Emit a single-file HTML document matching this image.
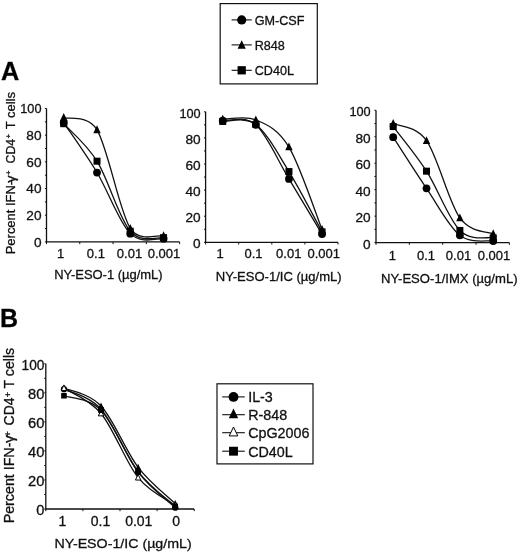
<!DOCTYPE html>
<html><head><meta charset="utf-8"><title>Figure</title>
<style>html,body{margin:0;padding:0;background:#fff}body{width:520px;height:553px;overflow:hidden;font-family:"Liberation Sans", sans-serif}</style></head>
<body>
<svg width="520" height="553" viewBox="0 0 520 553" style="display:block;will-change:transform;opacity:0.999">
<style>text{stroke:#111;stroke-width:0.30px;stroke-linejoin:round}</style>
<g font-family='"Liberation Sans", sans-serif' fill="#111">
<path d="M46.50 108.50 V241.90 H179.60" fill="none" stroke="#111" stroke-width="1.30"/>
<path d="M44.90 241.90 h1.60M44.90 228.56 h1.60M44.90 215.22 h1.60M44.90 201.88 h1.60M44.90 188.54 h1.60M44.90 175.20 h1.60M44.90 161.86 h1.60M44.90 148.52 h1.60M44.90 135.18 h1.60M44.90 121.84 h1.60M44.90 108.50 h1.60M46.50 241.90 v2.20M79.78 241.90 v2.20M113.05 241.90 v2.20M146.32 241.90 v2.20M179.60 241.90 v2.20" fill="none" stroke="#111" stroke-width="1"/>
<text x="41.50" y="246.58" font-size="13.00" text-anchor="end" textLength="7.59" lengthAdjust="spacingAndGlyphs">0</text>
<text x="41.50" y="219.90" font-size="13.00" text-anchor="end" textLength="15.18" lengthAdjust="spacingAndGlyphs">20</text>
<text x="41.50" y="193.22" font-size="13.00" text-anchor="end" textLength="15.18" lengthAdjust="spacingAndGlyphs">40</text>
<text x="41.50" y="166.54" font-size="13.00" text-anchor="end" textLength="15.18" lengthAdjust="spacingAndGlyphs">60</text>
<text x="41.50" y="139.86" font-size="13.00" text-anchor="end" textLength="15.18" lengthAdjust="spacingAndGlyphs">80</text>
<text x="41.50" y="113.18" font-size="13.00" text-anchor="end" textLength="21.25" lengthAdjust="spacingAndGlyphs">100</text>
<text x="60.64" y="258.30" font-size="13.00" text-anchor="middle">1</text>
<text x="95.91" y="258.30" font-size="13.00" text-anchor="middle">0.1</text>
<text x="129.49" y="258.30" font-size="13.00" text-anchor="middle">0.01</text>
<text x="163.96" y="258.30" font-size="13.00" text-anchor="middle">0.001</text>
<text x="54.15" y="279.00" font-size="12.70" textLength="108.50" lengthAdjust="spacingAndGlyphs">NY-ESO-1 (µg/mL)</text>
<text transform="translate(15.40 254.30) rotate(-90)" font-size="12.20" textLength="73.50" lengthAdjust="spacingAndGlyphs">Percent IFN-</text>
<text transform="translate(15.40 182.70) rotate(-90)" font-size="12.20" textLength="7.40" lengthAdjust="spacingAndGlyphs">γ</text>
<text transform="translate(10.80 174.90) rotate(-90)" font-size="7.80" textLength="4.60" lengthAdjust="spacingAndGlyphs">+</text>
<text transform="translate(15.40 163.50) rotate(-90)" font-size="12.20" textLength="24.60" lengthAdjust="spacingAndGlyphs">CD4</text>
<text transform="translate(10.80 138.50) rotate(-90)" font-size="7.80" textLength="4.60" lengthAdjust="spacingAndGlyphs">+</text>
<text transform="translate(15.40 129.30) rotate(-90)" font-size="12.20" textLength="37.30" lengthAdjust="spacingAndGlyphs">T cells</text>
<path d="M63.74 122.77 C69.28 131.07 85.92 154.06 97.01 172.53 C108.10 191.01 119.20 222.60 130.29 233.63 C141.38 244.66 158.02 237.85 163.56 238.70" fill="none" stroke="#111" stroke-width="1.30"/>
<path d="M63.74 117.57 C69.28 119.62 87.89 114.64 97.01 129.84 C108.10 148.32 119.20 210.77 130.29 228.43 C139.35 242.85 158.02 234.54 163.56 235.76" fill="none" stroke="#111" stroke-width="1.30"/>
<path d="M63.74 123.71 C69.28 129.96 85.92 143.27 97.01 161.19 C108.10 179.11 119.20 218.49 130.29 231.23 C141.38 243.97 158.02 236.56 163.56 237.63" fill="none" stroke="#111" stroke-width="1.30"/>
<circle cx="63.74" cy="122.77" r="3.90" fill="#000"/>
<circle cx="97.01" cy="172.53" r="3.90" fill="#000"/>
<circle cx="130.29" cy="233.63" r="3.90" fill="#000"/>
<circle cx="163.56" cy="238.70" r="3.90" fill="#000"/>
<path d="M63.74 113.07 L67.44 120.87 L60.04 120.87 Z" fill="#000"/>
<path d="M97.01 125.34 L100.71 133.14 L93.31 133.14 Z" fill="#000"/>
<path d="M130.29 223.93 L133.99 231.73 L126.59 231.73 Z" fill="#000"/>
<path d="M163.56 231.26 L167.26 239.06 L159.86 239.06 Z" fill="#000"/>
<rect x="60.24" y="120.21" width="7.00" height="7.00" fill="#000"/>
<rect x="93.51" y="157.69" width="7.00" height="7.00" fill="#000"/>
<rect x="126.79" y="227.73" width="7.00" height="7.00" fill="#000"/>
<rect x="160.06" y="234.13" width="7.00" height="7.00" fill="#000"/>
<path d="M205.60 111.80 V242.30 H338.00" fill="none" stroke="#111" stroke-width="1.30"/>
<path d="M204.00 242.30 h1.60M204.00 229.25 h1.60M204.00 216.20 h1.60M204.00 203.15 h1.60M204.00 190.10 h1.60M204.00 177.05 h1.60M204.00 164.00 h1.60M204.00 150.95 h1.60M204.00 137.90 h1.60M204.00 124.85 h1.60M204.00 111.80 h1.60M205.60 242.30 v2.20M238.70 242.30 v2.20M271.80 242.30 v2.20M304.90 242.30 v2.20M338.00 242.30 v2.20" fill="none" stroke="#111" stroke-width="1"/>
<text x="200.70" y="248.48" font-size="13.00" text-anchor="end" textLength="7.59" lengthAdjust="spacingAndGlyphs">0</text>
<text x="200.70" y="222.38" font-size="13.00" text-anchor="end" textLength="15.18" lengthAdjust="spacingAndGlyphs">20</text>
<text x="200.70" y="196.28" font-size="13.00" text-anchor="end" textLength="15.18" lengthAdjust="spacingAndGlyphs">40</text>
<text x="200.70" y="170.18" font-size="13.00" text-anchor="end" textLength="15.18" lengthAdjust="spacingAndGlyphs">60</text>
<text x="200.70" y="144.08" font-size="13.00" text-anchor="end" textLength="15.18" lengthAdjust="spacingAndGlyphs">80</text>
<text x="200.70" y="117.98" font-size="13.00" text-anchor="end" textLength="21.25" lengthAdjust="spacingAndGlyphs">100</text>
<text x="220.15" y="257.60" font-size="13.00" text-anchor="middle">1</text>
<text x="253.45" y="257.60" font-size="13.00" text-anchor="middle">0.1</text>
<text x="288.75" y="257.60" font-size="13.00" text-anchor="middle">0.01</text>
<text x="323.75" y="257.60" font-size="13.00" text-anchor="middle">0.001</text>
<text x="215.75" y="280.70" font-size="12.90" textLength="125.90" lengthAdjust="spacingAndGlyphs">NY-ESO-1/IC (µg/mL)</text>
<path d="M222.75 120.54 C228.27 121.26 244.82 115.13 255.85 124.85 C266.88 134.57 277.92 160.67 288.95 178.88 C299.98 197.08 316.53 224.88 322.05 234.08" fill="none" stroke="#111" stroke-width="1.30"/>
<path d="M222.75 119.24 C228.27 119.35 244.82 115.26 255.85 119.89 C266.88 124.52 277.92 128.77 288.95 147.04 C299.98 165.31 316.53 215.77 322.05 229.51" fill="none" stroke="#111" stroke-width="1.30"/>
<path d="M222.75 121.46 C228.27 121.96 244.82 116.11 255.85 124.46 C266.88 132.81 277.92 153.67 288.95 171.57 C299.98 189.47 316.53 221.81 322.05 231.86" fill="none" stroke="#111" stroke-width="1.30"/>
<circle cx="222.75" cy="120.54" r="3.90" fill="#000"/>
<circle cx="255.85" cy="124.85" r="3.90" fill="#000"/>
<circle cx="288.95" cy="178.88" r="3.90" fill="#000"/>
<circle cx="322.05" cy="234.08" r="3.90" fill="#000"/>
<path d="M222.75 114.74 L226.45 122.54 L219.05 122.54 Z" fill="#000"/>
<path d="M255.85 115.39 L259.55 123.19 L252.15 123.19 Z" fill="#000"/>
<path d="M288.95 142.54 L292.65 150.34 L285.25 150.34 Z" fill="#000"/>
<path d="M322.05 225.01 L325.75 232.81 L318.35 232.81 Z" fill="#000"/>
<rect x="219.25" y="117.96" width="7.00" height="7.00" fill="#000"/>
<rect x="252.35" y="120.96" width="7.00" height="7.00" fill="#000"/>
<rect x="285.45" y="168.07" width="7.00" height="7.00" fill="#000"/>
<rect x="318.55" y="228.36" width="7.00" height="7.00" fill="#000"/>
<path d="M376.00 110.30 V242.60 H509.40" fill="none" stroke="#111" stroke-width="1.30"/>
<path d="M374.40 242.60 h1.60M374.40 229.37 h1.60M374.40 216.14 h1.60M374.40 202.91 h1.60M374.40 189.68 h1.60M374.40 176.45 h1.60M374.40 163.22 h1.60M374.40 149.99 h1.60M374.40 136.76 h1.60M374.40 123.53 h1.60M374.40 110.30 h1.60M376.00 242.60 v2.20M409.35 242.60 v2.20M442.70 242.60 v2.20M476.05 242.60 v2.20M509.40 242.60 v2.20" fill="none" stroke="#111" stroke-width="1"/>
<text x="370.70" y="248.78" font-size="13.00" text-anchor="end" textLength="7.59" lengthAdjust="spacingAndGlyphs">0</text>
<text x="370.70" y="222.32" font-size="13.00" text-anchor="end" textLength="15.18" lengthAdjust="spacingAndGlyphs">20</text>
<text x="370.70" y="195.86" font-size="13.00" text-anchor="end" textLength="15.18" lengthAdjust="spacingAndGlyphs">40</text>
<text x="370.70" y="169.40" font-size="13.00" text-anchor="end" textLength="15.18" lengthAdjust="spacingAndGlyphs">60</text>
<text x="370.70" y="142.94" font-size="13.00" text-anchor="end" textLength="15.18" lengthAdjust="spacingAndGlyphs">80</text>
<text x="370.70" y="116.48" font-size="13.00" text-anchor="end" textLength="21.25" lengthAdjust="spacingAndGlyphs">100</text>
<text x="392.28" y="260.30" font-size="13.00" text-anchor="middle">1</text>
<text x="426.02" y="260.30" font-size="13.00" text-anchor="middle">0.1</text>
<text x="458.48" y="260.30" font-size="13.00" text-anchor="middle">0.01</text>
<text x="494.02" y="260.30" font-size="13.00" text-anchor="middle">0.001</text>
<text x="381.05" y="282.50" font-size="12.90" textLength="136.50" lengthAdjust="spacingAndGlyphs">NY-ESO-1/IMX (µg/mL)</text>
<path d="M393.18 137.16 C398.73 145.69 415.41 172.00 426.52 188.36 C437.64 204.72 448.76 226.55 459.88 235.32 C470.99 244.10 487.67 240.06 493.22 241.01" fill="none" stroke="#111" stroke-width="1.30"/>
<path d="M393.18 123.53 C398.73 126.40 415.70 125.40 426.52 140.73 C437.64 156.47 448.76 202.47 459.88 217.99 C470.63 233.01 487.67 231.22 493.22 233.87" fill="none" stroke="#111" stroke-width="1.30"/>
<path d="M393.18 126.57 C398.73 134.00 415.41 153.85 426.52 171.16 C437.64 188.47 448.76 219.32 459.88 230.43 C470.99 241.54 487.67 236.60 493.22 237.84" fill="none" stroke="#111" stroke-width="1.30"/>
<circle cx="393.18" cy="137.16" r="3.90" fill="#000"/>
<circle cx="426.52" cy="188.36" r="3.90" fill="#000"/>
<circle cx="459.88" cy="235.32" r="3.90" fill="#000"/>
<circle cx="493.22" cy="241.01" r="3.90" fill="#000"/>
<path d="M393.18 119.03 L396.88 126.83 L389.48 126.83 Z" fill="#000"/>
<path d="M426.52 136.23 L430.22 144.03 L422.82 144.03 Z" fill="#000"/>
<path d="M459.88 213.49 L463.57 221.29 L456.18 221.29 Z" fill="#000"/>
<path d="M493.22 229.37 L496.92 237.17 L489.52 237.17 Z" fill="#000"/>
<rect x="389.68" y="123.07" width="7.00" height="7.00" fill="#000"/>
<rect x="423.02" y="167.66" width="7.00" height="7.00" fill="#000"/>
<rect x="456.38" y="226.93" width="7.00" height="7.00" fill="#000"/>
<rect x="489.72" y="234.34" width="7.00" height="7.00" fill="#000"/>
<path d="M45.80 363.80 V509.00 H194.20" fill="none" stroke="#111" stroke-width="1.30"/>
<path d="M44.20 509.00 h1.60M44.20 494.48 h1.60M44.20 479.96 h1.60M44.20 465.44 h1.60M44.20 450.92 h1.60M44.20 436.40 h1.60M44.20 421.88 h1.60M44.20 407.36 h1.60M44.20 392.84 h1.60M44.20 378.32 h1.60M44.20 363.80 h1.60M45.80 509.00 v2.20M82.90 509.00 v2.20M120.00 509.00 v2.20M157.10 509.00 v2.20M194.20 509.00 v2.20" fill="none" stroke="#111" stroke-width="1"/>
<text x="44.40" y="515.14" font-size="14.00" text-anchor="end" textLength="8.17" lengthAdjust="spacingAndGlyphs">0</text>
<text x="44.40" y="486.10" font-size="14.00" text-anchor="end" textLength="16.35" lengthAdjust="spacingAndGlyphs">20</text>
<text x="44.40" y="457.06" font-size="14.00" text-anchor="end" textLength="16.35" lengthAdjust="spacingAndGlyphs">40</text>
<text x="44.40" y="428.02" font-size="14.00" text-anchor="end" textLength="16.35" lengthAdjust="spacingAndGlyphs">60</text>
<text x="44.40" y="398.98" font-size="14.00" text-anchor="end" textLength="16.35" lengthAdjust="spacingAndGlyphs">80</text>
<text x="44.40" y="369.94" font-size="14.00" text-anchor="end" textLength="22.88" lengthAdjust="spacingAndGlyphs">100</text>
<text x="62.35" y="526.00" font-size="14.00" text-anchor="middle">1</text>
<text x="100.45" y="526.00" font-size="14.00" text-anchor="middle">0.1</text>
<text x="138.75" y="526.00" font-size="14.00" text-anchor="middle">0.01</text>
<text x="176.25" y="526.00" font-size="14.00" text-anchor="middle">0</text>
<text x="54.45" y="548.30" font-size="13.70" textLength="137.30" lengthAdjust="spacingAndGlyphs">NY-ESO-1/IC (µg/mL)</text>
<text transform="translate(14.10 523.30) rotate(-90)" font-size="13.80" textLength="80.70" lengthAdjust="spacingAndGlyphs">Percent IFN-</text>
<text transform="translate(14.10 443.10) rotate(-90)" font-size="13.80" textLength="7.80" lengthAdjust="spacingAndGlyphs">γ</text>
<text transform="translate(10.60 436.40) rotate(-90)" font-size="8.60" textLength="5.20" lengthAdjust="spacingAndGlyphs">+</text>
<text transform="translate(14.10 425.40) rotate(-90)" font-size="13.80" textLength="27.80" lengthAdjust="spacingAndGlyphs">CD4</text>
<text transform="translate(10.50 397.20) rotate(-90)" font-size="8.60" textLength="5.20" lengthAdjust="spacingAndGlyphs">+</text>
<text transform="translate(14.10 388.50) rotate(-90)" font-size="13.80" textLength="40.60" lengthAdjust="spacingAndGlyphs">T cells</text>
<path d="M63.95 389.21 C70.13 392.55 88.68 395.43 101.05 409.25 C113.42 423.07 125.78 455.71 138.15 472.12 C150.52 488.53 169.07 501.76 175.25 507.69" fill="none" stroke="#111" stroke-width="1.30"/>
<path d="M63.95 388.05 C70.13 391.05 88.68 392.84 101.05 406.05 C113.42 419.27 125.78 451.09 138.15 467.33 C150.52 483.57 169.07 497.46 175.25 503.48" fill="none" stroke="#111" stroke-width="1.30"/>
<path d="M63.95 388.19 C70.13 392.40 88.68 398.55 101.05 413.46 C113.42 428.37 125.78 462.32 138.15 477.64 C150.52 492.96 169.07 500.75 175.25 505.37" fill="none" stroke="#111" stroke-width="1.30"/>
<path d="M63.95 395.74 C70.13 398.16 88.68 397.63 101.05 410.26 C113.42 422.90 125.78 455.52 138.15 471.54 C150.52 487.56 169.07 500.58 175.25 506.39" fill="none" stroke="#111" stroke-width="1.30"/>
<circle cx="63.95" cy="389.21" r="3.12" fill="#000"/>
<circle cx="101.05" cy="409.25" r="3.12" fill="#000"/>
<circle cx="138.15" cy="472.12" r="3.12" fill="#000"/>
<circle cx="175.25" cy="507.69" r="3.12" fill="#000"/>
<path d="M63.95 384.45 L66.91 390.69 L60.99 390.69 Z" fill="#000"/>
<path d="M101.05 402.45 L104.01 408.69 L98.09 408.69 Z" fill="#000"/>
<path d="M138.15 463.73 L141.11 469.97 L135.19 469.97 Z" fill="#000"/>
<path d="M175.25 499.88 L178.21 506.12 L172.29 506.12 Z" fill="#000"/>
<path d="M63.95 384.99 L66.67 390.59 L61.23 390.59 Z" fill="#fff" stroke="#000" stroke-width="1"/>
<path d="M101.05 410.26 L103.77 415.86 L98.33 415.86 Z" fill="#fff" stroke="#000" stroke-width="1"/>
<path d="M138.15 474.44 L140.87 480.04 L135.43 480.04 Z" fill="#fff" stroke="#000" stroke-width="1"/>
<path d="M175.25 502.17 L177.97 507.77 L172.53 507.77 Z" fill="#fff" stroke="#000" stroke-width="1"/>
<rect x="61.15" y="392.94" width="5.60" height="5.60" fill="#000"/>
<rect x="98.25" y="407.46" width="5.60" height="5.60" fill="#000"/>
<rect x="135.35" y="468.74" width="5.60" height="5.60" fill="#000"/>
<rect x="172.45" y="503.59" width="5.60" height="5.60" fill="#000"/>
<rect x="220.20" y="3.60" width="97.10" height="80.30" fill="#fff" stroke="#111" stroke-width="1.20"/>
<path d="M231.60 19.90 h20.20" stroke="#111" stroke-width="1.1"/>
<circle cx="241.70" cy="19.90" r="4.60" fill="#000"/>
<text x="254.70" y="24.84" font-size="12.60">GM-CSF</text>
<path d="M231.60 44.90 h20.20" stroke="#111" stroke-width="1.1"/>
<path d="M241.70 40.15 L245.77 48.73 L237.63 48.73 Z" fill="#000"/>
<text x="254.70" y="49.94" font-size="12.60">R848</text>
<path d="M231.60 70.30 h20.20" stroke="#111" stroke-width="1.1"/>
<rect x="237.57" y="66.17" width="8.26" height="8.26" fill="#000"/>
<text x="254.70" y="75.04" font-size="12.60">CD40L</text>
<rect x="217.00" y="383.80" width="96.00" height="80.10" fill="#fff" stroke="#111" stroke-width="1.20"/>
<path d="M222.20 396.90 h22.60" stroke="#111" stroke-width="1.1"/>
<circle cx="233.50" cy="396.90" r="4.95" fill="#000"/>
<text x="248.20" y="402.05" font-size="14.30">IL-3</text>
<path d="M222.20 414.70 h22.60" stroke="#111" stroke-width="1.1"/>
<path d="M233.50 408.38 L238.20 418.29 L228.80 418.29 Z" fill="#000"/>
<text x="248.20" y="419.85" font-size="14.30">R-848</text>
<path d="M222.20 432.70 h22.60" stroke="#111" stroke-width="1.1"/>
<path d="M233.50 427.02 L237.82 435.91 L229.18 435.91 Z" fill="#fff" stroke="#000" stroke-width="1"/>
<text x="248.20" y="437.85" font-size="14.30">CpG2006</text>
<path d="M222.20 451.20 h22.60" stroke="#111" stroke-width="1.1"/>
<rect x="229.06" y="446.75" width="8.89" height="8.89" fill="#000"/>
<text x="248.20" y="457.05" font-size="14.30">CD40L</text>
<text x="1.00" y="80.30" font-size="25.30" font-weight="bold" fill="#000">A</text>
<text x="0.00" y="327.10" font-size="25.00" font-weight="bold" fill="#000">B</text>
</g></svg>
</body></html>
